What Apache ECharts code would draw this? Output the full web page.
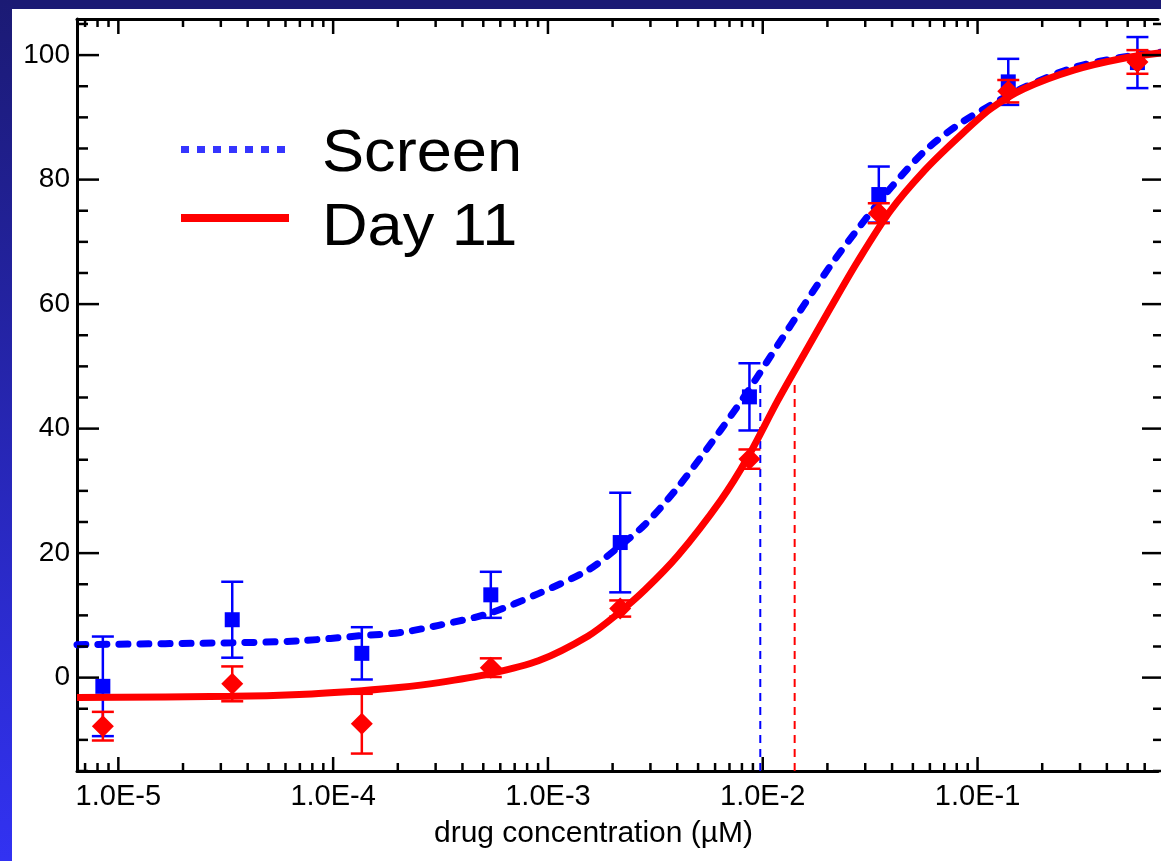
<!DOCTYPE html>
<html>
<head>
<meta charset="utf-8">
<title>drug concentration</title>
<script src="https://cdn.jsdelivr.net/npm/echarts@6/dist/echarts.min.js"></script>
<style>
  html, body { margin: 0; padding: 0; background: #ffffff; }
  #grafico { width: 1161px; height: 861px; }
</style>
</head>
<body>
<div id="grafico"></div>
<script>
// dilution points (uM)
var concentraciones = [8.47e-6, 3.39e-5, 1.36e-4, 5.42e-4, 2.17e-3, 8.67e-3, 3.47e-2, 0.139, 0.555];
var screenMedia = [-1.4, 9.3, 3.9, 13.3, 21.7, 45.1, 77.6, 95.7, 98.8];
var screenError = [8.0, 6.1, 4.2, 3.7, 8.0, 5.4, 4.5, 3.7, 4.1];
var dia11Media = [-7.8, -1.0, -7.4, 1.6, 11.1, 35.1, 74.6, 94.2, 98.9];
var dia11Error = [2.3, 2.8, 4.8, 1.5, 1.3, 1.55, 1.6, 1.8, 1.9];

// fitted curves
var curvaX = [6.42e-6, 3.40e-5, 6.95e-5, 1.36e-4, 2.02e-4, 3.10e-4, 5.30e-4, 9.03e-4, 1.54e-3, 2.12e-3,
    2.83e-3, 4.03e-3, 6.38e-3, 8.52e-3, 1.174e-2, 1.566e-2, 2.068e-2, 2.76e-2, 3.93e-2, 5.64e-2,
    8.03e-2, 0.1143, 0.1643, 0.2804, 0.4785, 0.733];
var curvaScreen = [5.3, 5.6, 5.9, 6.75, 7.2, 8.4, 10.3, 13.5, 17.3, 20.9,
    24.6, 30.6, 39.8, 46.0, 53.4, 60.0, 66.2, 72.0, 78.6, 84.5,
    88.7, 91.9, 94.8, 98.0, 99.7, 100.5];
var curvaDia11 = [-3.2, -3.0, -2.7, -2.1, -1.6, -0.8, 0.6, 2.7, 6.7, 10.3,
    14.1, 19.6, 28.5, 35.4, 44.5, 52.1, 59.4, 66.8, 75.0, 81.4,
    86.6, 91.3, 94.6, 97.6, 99.5, 100.4];

// EC50 markers
var ec50Screen = 9.74e-3;
var ec50Dia11 = 1.408e-2;
var ec50Tope = 47;

// axis ranges and ticks (right frame sits just past the picture edge)
var X_MIN = 6.42e-6, X_MAX = 0.692;
var Y_MIN = -15, Y_MAX = 105.8;
var yMayores = [0, 20, 40, 60, 80, 100];
var yMenores = [-15, -10, -5, 5, 10, 15, 25, 30, 35, 45, 50, 55, 65, 70, 75, 85, 90, 95, 105];
var xMayores = [1e-5, 1e-4, 1e-3, 1e-2, 1e-1];
var xMenores = [7e-6, 8e-6, 9e-6,
    2e-5, 3e-5, 4e-5, 5e-5, 6e-5, 7e-5, 8e-5, 9e-5,
    2e-4, 3e-4, 4e-4, 5e-4, 6e-4, 7e-4, 8e-4, 9e-4,
    2e-3, 3e-3, 4e-3, 5e-3, 6e-3, 7e-3, 8e-3, 9e-3,
    2e-2, 3e-2, 4e-2, 5e-2, 6e-2, 7e-2, 8e-2, 9e-2,
    2e-1, 3e-1, 4e-1, 5e-1, 6e-1];

var AZUL = '#0000ff';
var ROJO = '#ff0000';
var FUENTE = '"Liberation Sans", Arial, sans-serif';

function pares(xs, ys) {
    return xs.map(function (x, i) { return [x, ys[i]]; });
}
function barras(ms, es) {
    return concentraciones.map(function (c, i) { return [c, ms[i], es[i]]; });
}

function dibujarError(color) {
    return function (params, api) {
        var x = api.value(0), m = api.value(1), e = api.value(2);
        var arriba = api.coord([x, m + e]);
        var abajo = api.coord([x, m - e]);
        var w = 11;
        var estilo = { stroke: color, lineWidth: 2.5 };
        return {
            type: 'group',
            children: [
                { type: 'line', shape: { x1: arriba[0], y1: arriba[1], x2: abajo[0], y2: abajo[1] }, style: estilo },
                { type: 'line', shape: { x1: arriba[0] - w, y1: arriba[1], x2: arriba[0] + w, y2: arriba[1] }, style: estilo },
                { type: 'line', shape: { x1: abajo[0] - w, y1: abajo[1], x2: abajo[0] + w, y2: abajo[1] }, style: estilo }
            ]
        };
    };
}

function dibujarTicks(params, api) {
    var hijos = [];
    var ii = api.coord([X_MIN, Y_MIN]);
    var sd = api.coord([X_MAX, Y_MAX]);
    var der = sd[0] + 6; // right frame line is off the picture
    var estilo = { stroke: '#000', lineWidth: 2.5 };
    function linea(x1, y1, x2, y2) {
        hijos.push({ type: 'line', shape: { x1: x1, y1: y1, x2: x2, y2: y2 }, style: estilo });
    }
    yMayores.forEach(function (v) {
        var p = api.coord([X_MIN, v]);
        linea(ii[0], p[1], ii[0] + 22, p[1]);
        linea(der - 22, p[1], der, p[1]);
    });
    yMenores.forEach(function (v) {
        var p = api.coord([X_MIN, v]);
        linea(ii[0], p[1], ii[0] + 11, p[1]);
        linea(der - 11, p[1], der, p[1]);
    });
    xMayores.forEach(function (v) {
        var p = api.coord([v, Y_MIN]);
        linea(p[0], ii[1], p[0], ii[1] - 14);
        linea(p[0], sd[1], p[0], sd[1] + 15);
    });
    xMenores.forEach(function (v) {
        var p = api.coord([v, Y_MIN]);
        linea(p[0], ii[1], p[0], ii[1] - 8);
        linea(p[0], sd[1], p[0], sd[1] + 8);
    });
    return { type: 'group', children: hijos };
}

var chart = echarts.init(document.getElementById('grafico'), null, { renderer: 'canvas' });

var ejeX = {
    type: 'log',
    logBase: 10,
    min: X_MIN,
    max: X_MAX,
    axisLine: { show: true, onZero: false, lineStyle: { color: '#000', width: 3 } },
    axisTick: { show: false },
    minorTick: { show: false },
    splitLine: { show: false },
    axisLabel: { show: false }
};

var option = {
    animation: false,
    backgroundColor: '#ffffff',
    graphic: [
        {
            type: 'rect', left: 0, top: 0, z: -10,
            shape: { width: 1161, height: 9 },
            style: { fill: '#1b1a74' }
        },
        {
            type: 'rect', left: 0, top: 0, z: -10,
            shape: { width: 12, height: 861 },
            style: {
                fill: new echarts.graphic.LinearGradient(0, 0, 0, 1, [
                    { offset: 0, color: '#1b1a74' },
                    { offset: 1, color: '#3232f2' }
                ])
            }
        },
        {
            type: 'line', z: 100,
            shape: { x1: 181, y1: 149.5, x2: 293, y2: 149.5 },
            style: { stroke: '#3535ff', lineWidth: 7, lineDash: [8, 8] }
        },
        {
            type: 'line', z: 100,
            shape: { x1: 181, y1: 218, x2: 289, y2: 218 },
            style: { stroke: ROJO, lineWidth: 8 }
        },
        {
            type: 'text', z: 100, x: 322, y: 155, scaleX: 1.07,
            style: { text: 'Screen', font: '59px ' + FUENTE, fill: '#000', verticalAlign: 'middle' }
        },
        {
            type: 'text', z: 100, x: 322, y: 229, scaleX: 1.07,
            style: { text: 'Day 11', font: '59px ' + FUENTE, fill: '#000', verticalAlign: 'middle' }
        }
    ],
    grid: { left: 77, right: 0, top: 19, bottom: 90, containLabel: false },
    xAxis: [
        Object.assign({}, ejeX, {
            position: 'bottom',
            name: 'drug concentration (\u00b5M)',
            nameLocation: 'middle',
            nameGap: 48,
            nameTextStyle: { color: '#000', fontSize: 30, fontFamily: FUENTE, padding: [0, 48, 0, 0] },
            axisLabel: {
                show: true,
                color: '#000',
                fontSize: 29,
                fontFamily: FUENTE,
                margin: 11,
                formatter: function (v) {
                    var e = Math.log(v) / Math.LN10;
                    if (Math.abs(e - Math.round(e)) < 1e-6) {
                        return '1.0E' + Math.round(e);
                    }
                    return '';
                }
            }
        }),
        Object.assign({}, ejeX, { position: 'top' })
    ],
    yAxis: [
        {
            type: 'value',
            position: 'left',
            min: Y_MIN,
            max: Y_MAX,
            interval: 5,
            axisLine: { show: true, onZero: false, lineStyle: { color: '#000', width: 3 } },
            axisTick: { show: false },
            splitLine: { show: false },
            axisLabel: {
                color: '#000',
                fontSize: 28,
                fontFamily: FUENTE,
                margin: 7,
                formatter: function (v) {
                    return (v % 20 === 0 && v >= 0 && v <= 100) ? String(v) : '';
                }
            }
        },
        {
            type: 'value',
            position: 'right',
            min: Y_MIN,
            max: Y_MAX,
            interval: 5,
            axisLine: { show: false },
            axisTick: { show: false },
            splitLine: { show: false },
            axisLabel: { show: false }
        }
    ],
    series: [
        {
            type: 'custom',
            name: 'ticks',
            renderItem: dibujarTicks,
            data: [[1e-3, 0]],
            clip: false,
            silent: true,
            z: 5
        },
        {
            type: 'line',
            name: 'Screen',
            data: pares(curvaX, curvaScreen),
            showSymbol: false,
            smooth: 0.3,
            lineStyle: { color: AZUL, width: 7, type: [9, 12], cap: 'round' },
            z: 2
        },
        {
            type: 'line',
            name: 'EC50 Screen',
            data: [[ec50Screen, Y_MIN], [ec50Screen, ec50Tope]],
            showSymbol: false,
            lineStyle: { color: AZUL, width: 2, type: [8, 6] },
            z: 2
        },
        {
            type: 'custom',
            name: 'Screen err',
            renderItem: dibujarError(AZUL),
            data: barras(screenMedia, screenError),
            z: 3
        },
        {
            type: 'scatter',
            name: 'Screen puntos',
            data: pares(concentraciones, screenMedia),
            symbol: 'rect',
            symbolSize: 15,
            itemStyle: { color: AZUL, opacity: 1 },
            z: 3
        },
        {
            type: 'line',
            name: 'Day 11',
            data: pares(curvaX, curvaDia11),
            showSymbol: false,
            smooth: 0.3,
            lineStyle: { color: ROJO, width: 7 },
            z: 4
        },
        {
            type: 'line',
            name: 'EC50 Day 11',
            data: [[ec50Dia11, Y_MIN], [ec50Dia11, ec50Tope]],
            showSymbol: false,
            lineStyle: { color: ROJO, width: 2, type: [8, 6] },
            z: 4
        },
        {
            type: 'custom',
            name: 'Day 11 err',
            renderItem: dibujarError(ROJO),
            data: barras(dia11Media, dia11Error),
            z: 4
        },
        {
            type: 'scatter',
            name: 'Day 11 puntos',
            data: pares(concentraciones, dia11Media),
            symbol: 'diamond',
            symbolSize: 22,
            itemStyle: { color: ROJO, opacity: 1 },
            z: 4
        }
    ]
};

chart.setOption(option);
</script>
</body>
</html>
